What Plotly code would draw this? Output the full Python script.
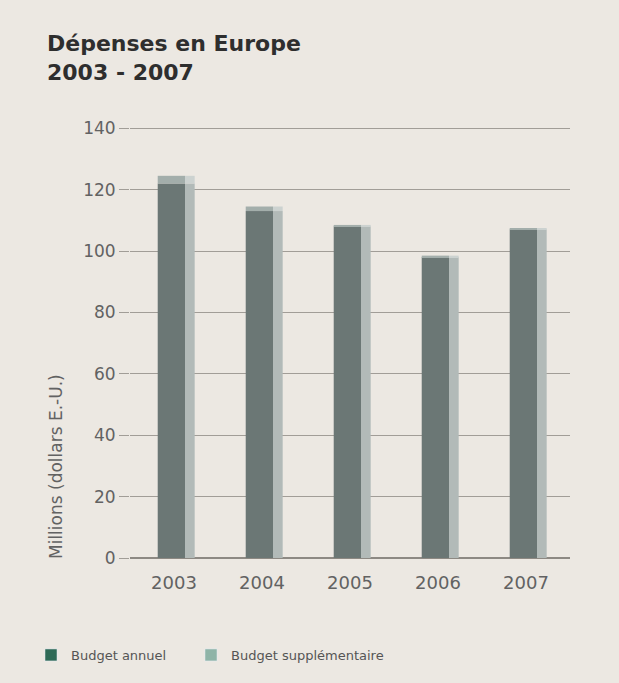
import plotly.graph_objects as go

years = ["2003", "2004", "2005", "2006", "2007"]
budget_annuel = [122, 113, 108, 98, 107]
budget_supp = [2.5, 1.5, 0.5, 0.5, 0.5]
y_ticks = [0, 20, 40, 60, 80, 100, 120, 140]

W, H = 619, 683
FRONT_W, FRONT_OFF = 0.31, -0.185
SIDE_W, SIDE_OFF = 0.11, 0.125

fig = go.Figure()
fig.add_trace(go.Bar(x=years, y=budget_annuel, width=FRONT_W, offset=FRONT_OFF,
                     marker=dict(color="#6b7775", line=dict(width=0)), showlegend=False, hoverinfo="skip"))
fig.add_trace(go.Bar(x=years, y=budget_annuel, width=SIDE_W, offset=SIDE_OFF,
                     marker=dict(color="#b2bab8", line=dict(width=0)), showlegend=False, hoverinfo="skip"))
fig.add_trace(go.Bar(x=years, y=budget_supp, base=budget_annuel, width=FRONT_W, offset=FRONT_OFF,
                     marker=dict(color="#a3aeab", line=dict(width=0)), showlegend=False, hoverinfo="skip"))
fig.add_trace(go.Bar(x=years, y=budget_supp, base=budget_annuel, width=SIDE_W, offset=SIDE_OFF,
                     marker=dict(color="#ccd2d0", line=dict(width=0)), showlegend=False, hoverinfo="skip"))
# legend entries
fig.add_trace(go.Bar(x=[years[0]], y=[None], name="Budget annuel",
                     marker=dict(color="#2f6a56"), legend="legend"))
fig.add_trace(go.Bar(x=[years[0]], y=[None], name="Budget supplémentaire",
                     marker=dict(color="#8fb4a7"), legend="legend2"))

legend_common = dict(orientation="h", xref="container", xanchor="left",
                     yref="container", yanchor="middle", y=(H - 655) / H,
                     bgcolor="rgba(0,0,0,0)", font=dict(size=13, color="#555555"))

fig.update_layout(
    width=W, height=H,
    barmode="overlay",
    paper_bgcolor="#ece8e2", plot_bgcolor="#ece8e2",
    margin=dict(l=130, r=49, t=127, b=125),
    font=dict(family="DejaVu Sans, sans-serif", color="#626262"),
    xaxis=dict(showgrid=False, showline=False, zeroline=False,
               ticks="outside", ticklen=8, tickcolor="rgba(0,0,0,0)",
               tickfont=dict(size=18, color="#626262")),
    yaxis=dict(range=[0, 140.4], tickvals=y_ticks, showgrid=True, gridcolor="#a19d97", gridwidth=1,
               zeroline=True, zerolinecolor="#8d8983", zerolinewidth=1.5, showline=False,
               ticks="outside", ticklen=10, tickcolor="#a19d97",
               tickfont=dict(size=17, color="#626262")),
    legend=dict(legend_common, x=31 / W),
    legend2=dict(legend_common, x=191 / W),
    annotations=[
        dict(text="<b>Dépenses en Europe<br>2003 - 2007</b>", xref="paper", yref="paper",
             x=(45 - 130) / 440, y=1 + (127 - 29) / 431, xanchor="left", yanchor="top",
             align="left", showarrow=False,
             font=dict(family="DejaVu Sans, sans-serif", size=22, color="#2e2e2e")),
        dict(text="Millions (dollars E.-U.)", textangle=-90,
             xref="paper", yref="paper",
             x=(56 - 130) / 440, y=(558 - 467) / 431,
             xanchor="center", yanchor="middle", showarrow=False,
             font=dict(size=17, color="#626262")),
    ],
)

fig.write_html("out.html", config={"displayModeBar": False},
               post_script="document.body.style.margin='0';document.body.style.background='#ece8e2';")
